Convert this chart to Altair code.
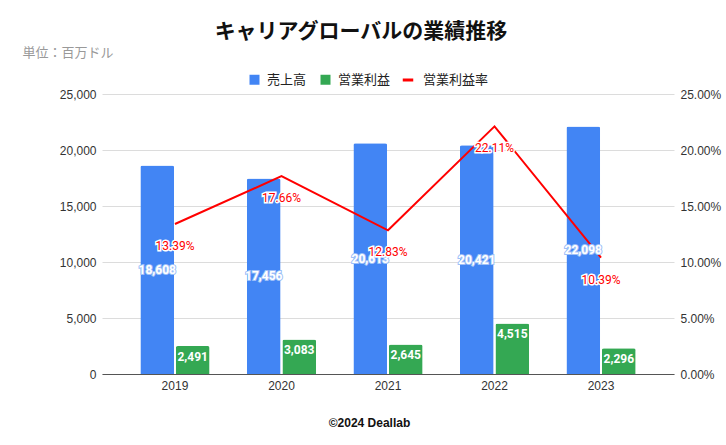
import altair as alt
import pandas as pd

years = ["2019", "2020", "2021", "2022", "2023"]
sales = [18608, 17456, 20613, 20421, 22098]
op_profit = [2491, 3083, 2645, 4515, 2296]
op_margin = [0.1339, 0.1766, 0.1283, 0.2211, 0.1039]

s_sales = "売上高"
s_op = "営業利益"
s_rate = "営業利益率"

bar_rows = []
for y, a, b in zip(years, sales, op_profit):
    bar_rows.append({"year": y, "series": s_sales, "value": a, "mid": a / 2})
    bar_rows.append({"year": y, "series": s_op, "value": b, "mid": b / 2})
df_bar = pd.DataFrame(bar_rows)
df_rate = pd.DataFrame({"year": years, "rate": op_margin, "series": [s_rate] * len(years)})

FONT = "Liberation Sans, Noto Sans CJK JP"
LABEL_FONT = "Roboto, Noto Sans CJK JP"

x_enc = alt.X(
    "year:N",
    sort=years,
    scale=alt.Scale(paddingInner=0.35, paddingOuter=0.36),
    axis=alt.Axis(
        title="©2024 Deallab", titleFontWeight="bold", titleFontSize=12, titleColor="#111",
        titleX=267, titleY=48, titleBaseline="middle", titleAlign="center",
        labelAngle=0, labelFontSize=12, labelColor="#333", labelPadding=6,
        ticks=False, domainColor="#555", domainWidth=1, grid=False,
    ),
)

left_axis = alt.Axis(
    title="単位：百万ドル", titleAngle=0, titleX=-80, titleY=-42, titleAlign="left",
    titleBaseline="middle", titleFontSize=13, titleFontWeight="normal", titleColor="#999",
    values=[0, 5000, 10000, 15000, 20000, 25000], format=",d",
    labelFontSize=12, labelColor="#333", labelPadding=6, ticks=False, domain=False,
    gridColor="#dcdcdc",
)
left_scale = alt.Scale(domain=[0, 25000], nice=False)
right_scale = alt.Scale(domain=[0, 0.25], nice=False)
x_off = alt.XOffset("series:N", sort=[s_sales, s_op], scale=alt.Scale(paddingInner=0.05))

bars = alt.Chart(df_bar).mark_bar(cornerRadiusTopLeft=2, cornerRadiusTopRight=2).encode(
    x=x_enc,
    xOffset=x_off,
    y=alt.Y("value:Q", scale=left_scale, axis=left_axis),
    color=alt.Color(
        "series:N",
        scale=alt.Scale(domain=[s_sales, s_op], range=["#4285F4", "#34A853"]),
        legend=alt.Legend(
            title=None, orient="none", direction="horizontal", legendX=146, legendY=-21,
            symbolType="square", symbolSize=100, labelFontSize=13, labelColor="#222",
            symbolStrokeWidth=0, columnPadding=12, labelOffset=6,
        ),
    ),
)

line = alt.Chart(df_rate).mark_line(strokeWidth=2).encode(
    x=x_enc,
    y=alt.Y(
        "rate:Q",
        scale=right_scale,
        axis=alt.Axis(
            orient="right", title=None, format=".2%", values=[0, 0.05, 0.1, 0.15, 0.2, 0.25],
            labelFontSize=12, labelColor="#333", labelPadding=6, ticks=False, domain=False,
            grid=False,
        ),
    ),
    stroke=alt.Stroke(
        "series:N",
        scale=alt.Scale(domain=[s_rate], range=["#FF0000"]),
        legend=alt.Legend(
            title=None, orient="none", direction="horizontal", legendX=299, legendY=-21,
            symbolType="stroke", symbolSize=110, symbolStrokeWidth=3, labelFontSize=13,
            labelColor="#222", labelOffset=8,
        ),
    ),
)

sales_base = alt.Chart(df_bar).transform_filter(alt.datum.series == s_sales)

sales_halo = sales_base.mark_text(
    font=LABEL_FONT, fontSize=12, fontWeight="bold", color="#9dbff8", stroke="#9dbff8",
    strokeWidth=2, baseline="middle",
).encode(
    x=x_enc,
    xOffset=x_off,
    y=alt.Y("mid:Q", scale=left_scale, axis=None),
    text=alt.Text("value:Q", format=",d"),
)

sales_labels = sales_base.mark_text(
    font=LABEL_FONT, fontSize=12, fontWeight="bold", color="white", baseline="middle",
).encode(
    x=x_enc,
    xOffset=x_off,
    y=alt.Y("mid:Q", scale=left_scale, axis=None),
    text=alt.Text("value:Q", format=",d"),
)

op_labels = alt.Chart(df_bar).transform_filter(
    alt.datum.series == s_op
).mark_text(
    font=LABEL_FONT, fontSize=12, fontWeight="bold", color="white", baseline="middle", dy=11,
).encode(
    x=x_enc,
    xOffset=x_off,
    y=alt.Y("value:Q", scale=left_scale, axis=None),
    text=alt.Text("value:Q", format=",d"),
)

rate_halo = alt.Chart(df_rate).mark_text(
    font=LABEL_FONT, fontSize=12, color="white", stroke="white", strokeWidth=3,
    baseline="middle", dy=22,
).encode(
    x=x_enc,
    y=alt.Y("rate:Q", scale=right_scale, axis=None),
    text=alt.Text("rate:Q", format=".2%"),
)

rate_text = alt.Chart(df_rate).mark_text(
    font=LABEL_FONT, fontSize=12, color="#FF0000", baseline="middle", dy=22,
).encode(
    x=x_enc,
    y=alt.Y("rate:Q", scale=right_scale, axis=None),
    text=alt.Text("rate:Q", format=".2%"),
)

chart = alt.layer(
    bars, line, sales_halo, sales_labels, op_labels, rate_halo, rate_text
).resolve_scale(
    y="independent", color="independent", stroke="independent"
).properties(
    width=572,
    height=280,
    title=alt.TitleParams(
        "キャリアグローバルの業績推移", fontSize=21, fontWeight="bold", color="#111",
        anchor="middle", dx=-27, dy=0, font=FONT,
    ),
    autosize=alt.AutoSizeParams(type="none"),
    padding={"left": 102, "top": 94, "right": 52, "bottom": 71},
).configure(
    font=FONT,
).configure_view(
    stroke=None,
).configure_axis(
    labelFont=FONT, titleFont=FONT,
).configure_legend(
    labelFont=FONT,
)

chart.save("out.html", embed_options={"renderer": "svg", "actions": False})
